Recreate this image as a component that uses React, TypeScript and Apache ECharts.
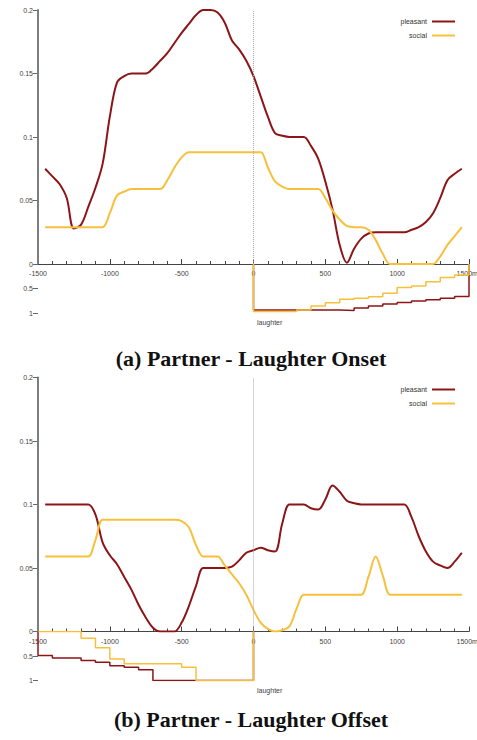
import React, { useEffect, useRef } from "react";
import * as echarts from "echarts";

// time points (ms) of the smoothed curves
const timePoints = [
  -1450, -1400, -1350, -1300, -1250, -1200, -1150, -1100, -1050, -1000,
  -950, -900, -850, -800, -750, -700, -650, -600, -550, -500,
  -450, -400, -350, -300, -250, -200, -150, -100, -50, 0,
  50, 100, 150, 200, 250, 300, 350, 400, 450, 500,
  550, 600, 650, 700, 750, 800, 850, 900, 950, 1000,
  1050, 1100, 1150, 1200, 1250, 1300, 1350, 1400, 1450,
];

// (a) Laughter Onset
const pleasantOnset = [
  0.075, 0.069, 0.063, 0.052, 0.028, 0.031, 0.045, 0.060, 0.079, 0.116,
  0.143, 0.148, 0.150, 0.150, 0.150, 0.154, 0.160, 0.166, 0.174, 0.182,
  0.189, 0.196, 0.200, 0.200, 0.198, 0.190, 0.176, 0.169, 0.160, 0.148,
  0.132, 0.116, 0.103, 0.101, 0.100, 0.100, 0.100, 0.093, 0.083, 0.065,
  0.043, 0.015, 0.001, 0.012, 0.020, 0.024, 0.025, 0.025, 0.025, 0.025,
  0.025, 0.027, 0.029, 0.033, 0.040, 0.052, 0.066, 0.071, 0.075,
];
const socialOnset = [
  0.029, 0.029, 0.029, 0.029, 0.029, 0.029, 0.029, 0.029, 0.029, 0.040,
  0.054, 0.057, 0.059, 0.059, 0.059, 0.059, 0.059, 0.066, 0.076, 0.084,
  0.088, 0.088, 0.088, 0.088, 0.088, 0.088, 0.088, 0.088, 0.088, 0.088,
  0.088, 0.076, 0.065, 0.061, 0.059, 0.059, 0.059, 0.059, 0.059, 0.052,
  0.042, 0.035, 0.030, 0.029, 0.029, 0.027, 0.019, 0.008, 0.000, 0.000,
  0.000, 0.000, 0.000, 0.000, 0.000, 0.006, 0.015, 0.022, 0.029,
];

// (b) Laughter Offset
const pleasantOffset = [
  0.100, 0.100, 0.100, 0.100, 0.100, 0.100, 0.100, 0.092, 0.070, 0.060,
  0.053, 0.043, 0.033, 0.021, 0.011, 0.003, 0.000, 0.000, 0.000, 0.007,
  0.020, 0.036, 0.050, 0.050, 0.050, 0.050, 0.051, 0.056, 0.062, 0.064,
  0.066, 0.064, 0.063, 0.085, 0.100, 0.100, 0.100, 0.097, 0.096, 0.104,
  0.115, 0.110, 0.103, 0.101, 0.100, 0.100, 0.100, 0.100, 0.100, 0.100,
  0.100, 0.090, 0.075, 0.063, 0.055, 0.052, 0.050, 0.055, 0.062,
];
const socialOffset = [
  0.059, 0.059, 0.059, 0.059, 0.059, 0.059, 0.059, 0.072, 0.088, 0.088,
  0.088, 0.088, 0.088, 0.088, 0.088, 0.088, 0.088, 0.088, 0.088, 0.087,
  0.082, 0.068, 0.059, 0.059, 0.059, 0.052, 0.045, 0.038, 0.029, 0.017,
  0.007, 0.002, 0.000, 0.001, 0.004, 0.018, 0.029, 0.029, 0.029, 0.029,
  0.029, 0.029, 0.029, 0.029, 0.029, 0.043, 0.059, 0.044, 0.029, 0.029,
  0.029, 0.029, 0.029, 0.029, 0.029, 0.029, 0.029, 0.029, 0.029,
];

// laughter step profiles (value holds from its time to the next time)
const pleasantOnsetStepTimes = [0, 0, 600, 700, 800, 900, 1000, 1100, 1200, 1300, 1400, 1500];
const pleasantOnsetStepValues = [0, 0.94, 0.95, 0.9, 0.857, 0.816, 0.785, 0.755, 0.728, 0.7, 0.665, 0];
const socialOnsetStepTimes = [0, 0, 300, 400, 500, 600, 700, 800, 900, 1000, 1100, 1200, 1300, 1400, 1500];
const socialOnsetStepValues = [0, 0.97, 0.94, 0.855, 0.79, 0.72, 0.7, 0.67, 0.595, 0.48, 0.45, 0.36, 0.275, 0.224, 0];

const pleasantOffsetStepTimes = [-1500, -1500, -1400, -1200, -1100, -1000, -900, -800, -700, 0];
const pleasantOffsetStepValues = [0, 0.49, 0.54, 0.59, 0.63, 0.7, 0.73, 0.78, 1.0, 0];
const socialOffsetStepTimes = [-1500, -1200, -1100, -1000, -900, -500, -400, 0];
const socialOffsetStepValues = [0, 0.138, 0.33, 0.56, 0.66, 0.73, 1.0, 0];

const xTickLabels: Record<number, string> = {
  [-1500]: "-1500",
  [-1000]: "-1000",
  [-500]: "-500",
  0: "0",
  500: "500",
  1000: "1000",
  1500: "1500ms",
};

const seriesNames = ["pleasant", "social"];
const titles = ["(a) Partner - Laughter Onset", "(b) Partner - Laughter Offset"];

const RED = "#8c1518";
const GOLD = "#f7c03c";
const AXIS_GREY = "#7d7d7d";
const FONT = "Liberation Sans";
const X_MIN = -1500;
const X_MAX = 1500;
const Y_MAX = 0.2;

const pairs = (xs: number[], ys: number[]) => xs.map((x, i) => [x, ys[i]]);

export default function App() {
  const ref = useRef<HTMLDivElement>(null);

  useEffect(() => {
    document.body.style.margin = "0";
    if (!ref.current) return;
    const chart = echarts.init(ref.current, undefined, { renderer: "svg" });

    const mainTops = [10, 377.5];
    const mainH = 254;
    const subH = 49;
    const grids: any[] = [];
    mainTops.forEach((t) => {
      grids.push({ left: 38, width: 431, top: t, height: mainH, outerBoundsMode: "none" });
      grids.push({ left: 38, width: 431, top: t + mainH, height: subH, outerBoundsMode: "none" });
    });

    const xAxes: any[] = [];
    const yAxes: any[] = [];
    [0, 1].forEach((p) => {
      xAxes.push({
        gridIndex: p * 2,
        type: "value",
        min: X_MIN,
        max: X_MAX,
        interval: 500,
        axisLine: { show: true, onZero: false, lineStyle: { color: "#444", width: 1.2 } },
        axisTick: { show: true, inside: true, length: 5, lineStyle: { color: "#444" } },
        minorTick: { show: true, splitNumber: 5, length: 3, lineStyle: { color: "#444" } },
        splitLine: { show: false },
        axisLabel: {
          fontSize: 7,
          color: "#444",
          fontFamily: FONT,
          margin: 6,
          hideOverlap: false,
          formatter: (v: number) => xTickLabels[v] ?? "",
        },
      });
      xAxes.push({
        gridIndex: p * 2 + 1,
        type: "value",
        min: X_MIN,
        max: X_MAX,
        show: false,
      });
      yAxes.push({
        gridIndex: p * 2,
        type: "value",
        min: 0,
        max: Y_MAX,
        interval: 0.05,
        axisLine: { show: true, onZero: false, lineStyle: { color: AXIS_GREY, width: 2 } },
        axisTick: { show: true, length: 5, lineStyle: { color: "#666" } },
        splitLine: { show: false },
        axisLabel: { fontSize: 7, color: "#444", fontFamily: FONT, margin: 5 },
      });
      yAxes.push({
        gridIndex: p * 2 + 1,
        type: "value",
        min: 0,
        max: 1,
        interval: 0.5,
        inverse: true,
        axisLine: { show: false, onZero: false },
        axisTick: { show: true, length: 5, customValues: [0.5, 1], lineStyle: { color: "#666" } },
        splitLine: { show: false },
        axisLabel: {
          fontSize: 7,
          color: "#444",
          fontFamily: FONT,
          margin: 5,
          customValues: [0.5, 1],
          formatter: (v: number) => (v === 0 ? "" : String(v)),
        },
      });
    });

    const curveSets = [
      [pleasantOnset, socialOnset],
      [pleasantOffset, socialOffset],
    ];
    const stepSets = [
      [pairs(pleasantOnsetStepTimes, pleasantOnsetStepValues), pairs(socialOnsetStepTimes, socialOnsetStepValues)],
      [pairs(pleasantOffsetStepTimes, pleasantOffsetStepValues), pairs(socialOffsetStepTimes, socialOffsetStepValues)],
    ];
    const colors = [RED, GOLD];

    const series: any[] = [];
    [0, 1].forEach((p) => {
      // left axis rule of the main plot, spanning the y-axis range at the x-axis minimum
      series.push({
        name: "y axis rule",
        type: "line",
        xAxisIndex: p * 2,
        yAxisIndex: p * 2,
        data: [
          [X_MIN, 0],
          [X_MIN, Y_MAX],
        ],
        clip: false,
        silent: true,
        showSymbol: false,
        symbol: "none",
        color: AXIS_GREY,
        lineStyle: { color: AXIS_GREY, width: 2 },
        z: 10,
      });
      curveSets[p].forEach((vals, k) => {
        series.push({
          name: seriesNames[k],
          type: "line",
          xAxisIndex: p * 2,
          yAxisIndex: p * 2,
          data: timePoints.map((t, i) => [t, vals[i]]),
          smooth: 0.35,
          showSymbol: false,
          symbol: "none",
          color: colors[k],
          lineStyle: { color: colors[k], width: 2 },
          z: 3,
          markLine:
            k === 0
              ? {
                  silent: true,
                  symbol: "none",
                  label: { show: false },
                  lineStyle: { type: "dotted", color: "#aaa", width: 1 },
                  data: [{ xAxis: 0 }],
                }
              : undefined,
        });
      });
      stepSets[p].forEach((pts, k) => {
        series.push({
          name: seriesNames[k] + " laughter",
          type: "line",
          xAxisIndex: p * 2 + 1,
          yAxisIndex: p * 2 + 1,
          data: pts,
          step: "end",
          showSymbol: false,
          symbol: "none",
          color: colors[k],
          lineStyle: { color: colors[k], width: 1.5 },
          z: 3 + k,
        });
      });
    });

    const legendBase = {
      data: seriesNames,
      orient: "vertical",
      right: 17,
      align: "right",
      icon: "rect",
      itemWidth: 23,
      itemHeight: 2,
      itemGap: 7,
      textStyle: { fontSize: 7, color: "#333", fontFamily: FONT },
    };

    const titleCenters = [358, 719.5];
    const laughterY = [322.5, 690.5];

    chart.setOption({
      animation: false,
      textStyle: { fontFamily: FONT },
      grid: grids,
      xAxis: xAxes,
      yAxis: yAxes,
      legend: [
        { ...legendBase, top: 13 },
        { ...legendBase, top: 381 },
      ],
      series,
      graphic: [
        ...titles.map((t, i) => ({
          type: "text",
          id: "title" + i,
          x: 251,
          y: titleCenters[i],
          style: {
            text: t,
            fontFamily: "Liberation Serif",
            fontWeight: "bold",
            fontSize: 22,
            fill: "#111",
            textAlign: "center",
            textVerticalAlign: "middle",
          },
        })),
        ...laughterY.map((y, i) => ({
          type: "text",
          id: "laughter" + i,
          x: 257,
          y,
          style: {
            text: "laughter",
            fontFamily: FONT,
            fontSize: 7,
            fill: "#444",
            textAlign: "left",
            textVerticalAlign: "middle",
          },
        })),
      ],
    });

    return () => chart.dispose();
  }, []);

  return <div ref={ref} style={{ width: 477, height: 740 }} />;
}
